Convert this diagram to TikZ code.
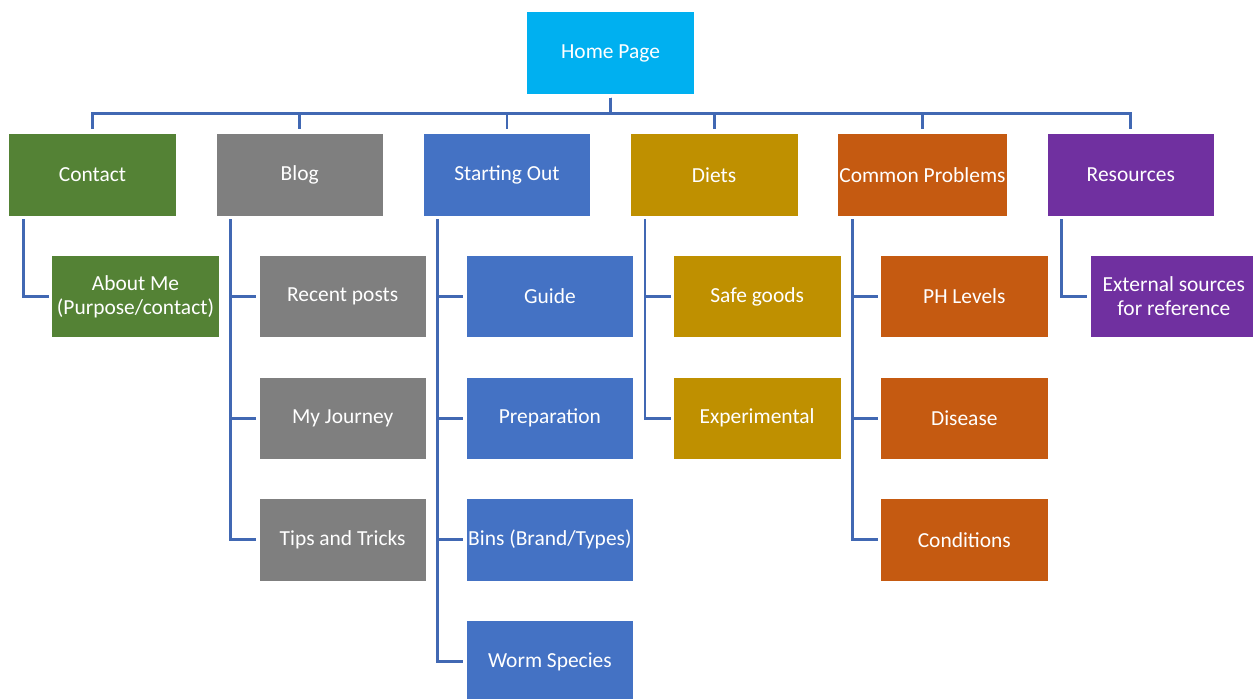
\documentclass[tikz,border=0pt]{standalone}
\usepackage{fontspec}
\setmainfont{Carlito}
\usetikzlibrary{positioning, calc}

\definecolor{homecol}{HTML}{00B0F0}
\definecolor{contactcol}{HTML}{548235}
\definecolor{blogcol}{HTML}{7F7F7F}
\definecolor{startcol}{HTML}{4472C4}
\definecolor{dietcol}{HTML}{BF9000}
\definecolor{problemcol}{HTML}{C55A11}
\definecolor{resourcecol}{HTML}{7030A0}
\definecolor{linkcol}{HTML}{4168B3}

\begin{document}
\begin{tikzpicture}[
        font=\fontsize{12.2}{13.6}\selectfont,
        page/.style={draw=white, line width=0.4pt, minimum width=3.35cm, minimum height=1.65cm, inner sep=1pt, text=white, align=center},
        link/.style={draw=linkcol, line width=1.6pt}
    ]
        \useasboundingbox (0,0) rectangle (25.06,-13.96);

        % top of the site map
        \node[page, fill=homecol] (home) at (12.21,-1.06) {Home Page};

        % main sections
        \node[page, fill=startcol, below left=0.77cm and 0.39cm of home.south] (start) {Starting Out};
        \node[page, fill=blogcol, left=0.78cm of start] (blog) {Blog};
        \node[page, fill=contactcol, left=0.78cm of blog] (contact) {Contact};
        \node[page, fill=dietcol, right=0.78cm of start] (diets) {Diets};
        \node[page, fill=problemcol, right=0.78cm of diets] (problems) {Common Problems};
        \node[page, fill=resourcecol, right=0.78cm of problems] (resources) {Resources};

        % sub pages
        \node[page, fill=contactcol, below right=0.77cm and 0.86cm of contact.south west] (about) {About Me\\(Purpose/contact)};

        \node[page, fill=blogcol, below right=0.77cm and 0.86cm of blog.south west] (recent) {Recent posts};
        \node[page, fill=blogcol, below=0.77cm of recent] (journey) {My Journey};
        \node[page, fill=blogcol, below=0.77cm of journey] (tips) {Tips and Tricks};

        \node[page, fill=startcol, below right=0.77cm and 0.86cm of start.south west] (guide) {Guide};
        \node[page, fill=startcol, below=0.77cm of guide] (prep) {Preparation};
        \node[page, fill=startcol, below=0.77cm of prep] (bins) {Bins (Brand/Types)};
        \node[page, fill=startcol, below=0.77cm of bins] (worms) {Worm Species};

        \node[page, fill=dietcol, below right=0.77cm and 0.86cm of diets.south west] (safe) {Safe goods};
        \node[page, fill=dietcol, below=0.77cm of safe] (experimental) {Experimental};

        \node[page, fill=problemcol, below right=0.77cm and 0.86cm of problems.south west] (ph) {PH Levels};
        \node[page, fill=problemcol, below=0.77cm of ph] (disease) {Disease};
        \node[page, fill=problemcol, below=0.77cm of disease] (conditions) {Conditions};

        \node[page, fill=resourcecol, below right=0.77cm and 0.86cm of resources.south west] (external) {External sources\\for reference};

        % home page to main sections
        \draw[link] ([yshift=-0.06cm]home.south) -- ++(0,-0.32) -| ([yshift=0.08cm]contact.north);
        \draw[link] ([yshift=-0.06cm]home.south) -- ++(0,-0.32) -| ([yshift=0.08cm]blog.north);
        \draw[link] ([yshift=-0.06cm]home.south) -- ++(0,-0.32) -| ([yshift=0.08cm]start.north);
        \draw[link] ([yshift=-0.06cm]home.south) -- ++(0,-0.32) -| ([yshift=0.08cm]diets.north);
        \draw[link] ([yshift=-0.06cm]home.south) -- ++(0,-0.32) -| ([yshift=0.08cm]problems.north);
        \draw[link] ([yshift=-0.06cm]home.south) -- ++(0,-0.32) -| ([yshift=0.08cm]resources.north);

        % sections to sub pages
        \draw[link] ([xshift=0.3cm,yshift=-0.06cm]contact.south west) |- ([xshift=-0.05cm]about.west);

        \draw[link] ([xshift=0.3cm,yshift=-0.06cm]blog.south west) |- ([xshift=-0.05cm]recent.west);
        \draw[link] ([xshift=0.3cm,yshift=-0.06cm]blog.south west) |- ([xshift=-0.05cm]journey.west);
        \draw[link] ([xshift=0.3cm,yshift=-0.06cm]blog.south west) |- ([xshift=-0.05cm]tips.west);

        \draw[link] ([xshift=0.3cm,yshift=-0.06cm]start.south west) |- ([xshift=-0.05cm]guide.west);
        \draw[link] ([xshift=0.3cm,yshift=-0.06cm]start.south west) |- ([xshift=-0.05cm]prep.west);
        \draw[link] ([xshift=0.3cm,yshift=-0.06cm]start.south west) |- ([xshift=-0.05cm]bins.west);
        \draw[link] ([xshift=0.3cm,yshift=-0.06cm]start.south west) |- ([xshift=-0.05cm]worms.west);

        \draw[link] ([xshift=0.3cm,yshift=-0.06cm]diets.south west) |- ([xshift=-0.05cm]safe.west);
        \draw[link] ([xshift=0.3cm,yshift=-0.06cm]diets.south west) |- ([xshift=-0.05cm]experimental.west);

        \draw[link] ([xshift=0.3cm,yshift=-0.06cm]problems.south west) |- ([xshift=-0.05cm]ph.west);
        \draw[link] ([xshift=0.3cm,yshift=-0.06cm]problems.south west) |- ([xshift=-0.05cm]disease.west);
        \draw[link] ([xshift=0.3cm,yshift=-0.06cm]problems.south west) |- ([xshift=-0.05cm]conditions.west);

        \draw[link] ([xshift=0.3cm,yshift=-0.06cm]resources.south west) |- ([xshift=-0.05cm]external.west);
    \end{tikzpicture}
\end{document}
